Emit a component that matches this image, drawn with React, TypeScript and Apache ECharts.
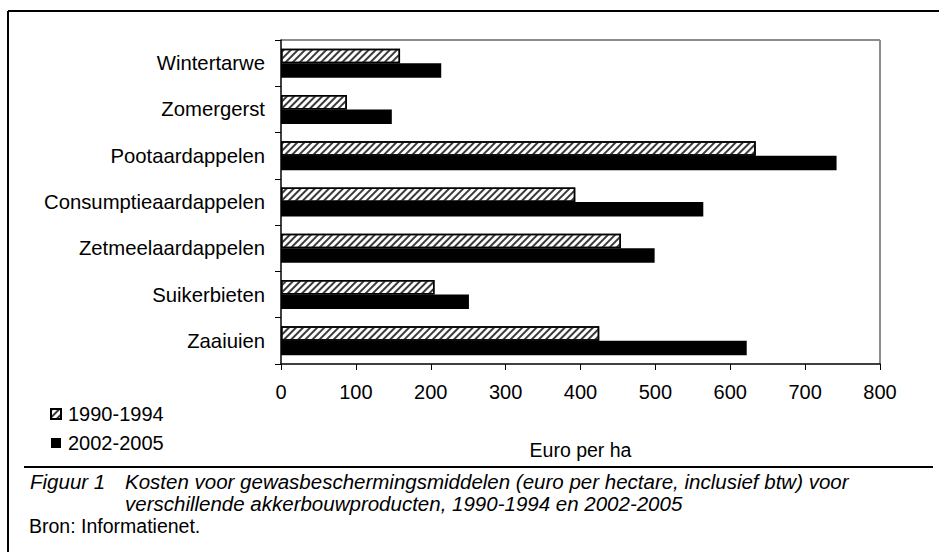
import React, { useEffect, useRef } from "react";
import * as echarts from "echarts";

const categories = [
  "Wintertarwe",
  "Zomergerst",
  "Pootaardappelen",
  "Consumptieaardappelen",
  "Zetmeelaardappelen",
  "Suikerbieten",
  "Zaaiuien",
];
const series1990 = [159, 88, 634, 393, 454, 205, 425];
const series2002 = [214, 148, 742, 564, 499, 251, 622];
const seriesNames = ["1990-1994", "2002-2005"];
const xMin = 0;
const xMax = 800;
const xInterval = 100;
const axisName = "Euro per ha";
const captionLabel = "Figuur 1";
const captionLine1 = "Kosten voor gewasbeschermingsmiddelen (euro per hectare, inclusief btw) voor";
const captionLine2 = "verschillende akkerbouwproducten, 1990-1994 en 2002-2005";
const sourceText = "Bron: Informatienet.";

const FONT = '"Liberation Sans", Arial, sans-serif';

export default function App() {
  const ref = useRef<HTMLDivElement>(null);
  useEffect(() => {
    document.body.style.margin = "0";
    if (!ref.current) return;
    const chart = echarts.init(ref.current, undefined, { renderer: "svg" });
    const gridLeft = 281;
    const gridTop = 40;
    const gridRight = 880;
    const gridBottom = 364;
    const hatch = {
      symbol: "rect",
      symbolSize: 1,
      dashArrayX: [1, 0],
      dashArrayY: [1.6, 2.6],
      rotation: -Math.PI / 4,
      color: "#3a3a3a",
    };
    chart.setOption({
      animation: false,
      backgroundColor: "#ffffff",
      textStyle: { fontFamily: FONT, color: "#000" },
      grid: {
        left: gridLeft,
        top: gridTop,
        right: 939 - gridRight,
        bottom: 552 - gridBottom,
        containLabel: false,
      },
      legend: {
        orient: "vertical",
        left: 45,
        top: 399,
        itemWidth: 10,
        itemHeight: 10,
        itemGap: 9,
        icon: "rect",
        textStyle: { fontFamily: FONT, fontSize: 20, color: "#000", padding: [0, 0, 0, 2] },
        data: seriesNames,
      },
      xAxis: {
        type: "value",
        min: xMin,
        max: xMax,
        interval: xInterval,
        name: axisName,
        nameLocation: "middle",
        nameGap: 76,
        nameTextStyle: { fontFamily: FONT, fontSize: 19.5, color: "#000" },
        axisLine: { show: true, lineStyle: { color: "#000", width: 1.5 } },
        axisTick: { show: true, length: 6, lineStyle: { color: "#000", width: 1 } },
        axisLabel: { fontFamily: FONT, fontSize: 20, color: "#000", margin: 18 },
        splitLine: { show: false },
      },
      yAxis: {
        type: "category",
        data: categories,
        inverse: true,
        axisLine: { show: true, lineStyle: { color: "#000", width: 1.5 } },
        axisTick: { show: true, length: 6, lineStyle: { color: "#000", width: 1 } },
        axisLabel: { fontFamily: FONT, fontSize: 20.3, color: "#000", margin: 16 },
      },
      series: [
        {
          name: seriesNames[0],
          type: "bar",
          data: series1990,
          barWidth: 14.5,
          barGap: "0%",
          itemStyle: {
            color: "#ffffff",
            borderColor: "#000",
            borderWidth: 1.5,
            decal: hatch,
          },
        },
        {
          name: seriesNames[1],
          type: "bar",
          data: series2002,
          barWidth: 14.5,
          barGap: "0%",
          itemStyle: { color: "#000" },
        },
      ],
      graphic: [
        { type: "line", z: 0, shape: { x1: gridLeft, y1: gridTop, x2: gridRight, y2: gridTop }, style: { stroke: "#8c8c8c", lineWidth: 2 } },
        { type: "line", z: 0, shape: { x1: gridRight, y1: gridTop, x2: gridRight, y2: gridBottom }, style: { stroke: "#8c8c8c", lineWidth: 2 } },
        { type: "line", shape: { x1: 8, y1: 11, x2: 939, y2: 11 }, style: { stroke: "#000", lineWidth: 2 } },
        { type: "line", shape: { x1: 8, y1: 11, x2: 8, y2: 552 }, style: { stroke: "#000", lineWidth: 2 } },
        { type: "line", shape: { x1: 24, y1: 467, x2: 933, y2: 467 }, style: { stroke: "#000", lineWidth: 2 } },
        { type: "text", x: 30, y: 481, style: { text: captionLabel, font: `italic 20.5px ${FONT}`, fill: "#000", verticalAlign: "middle" } },
        { type: "text", x: 125, y: 481, style: { text: captionLine1, font: `italic 20.5px ${FONT}`, fill: "#000", verticalAlign: "middle" } },
        { type: "text", x: 125, y: 503, style: { text: captionLine2, font: `italic 20.5px ${FONT}`, fill: "#000", verticalAlign: "middle" } },
        { type: "text", x: 29, y: 526, style: { text: sourceText, font: `19.5px ${FONT}`, fill: "#000", verticalAlign: "middle" } },
      ],
    });
    return () => chart.dispose();
  }, []);
  return <div ref={ref} style={{ width: 939, height: 552 }} />;
}
